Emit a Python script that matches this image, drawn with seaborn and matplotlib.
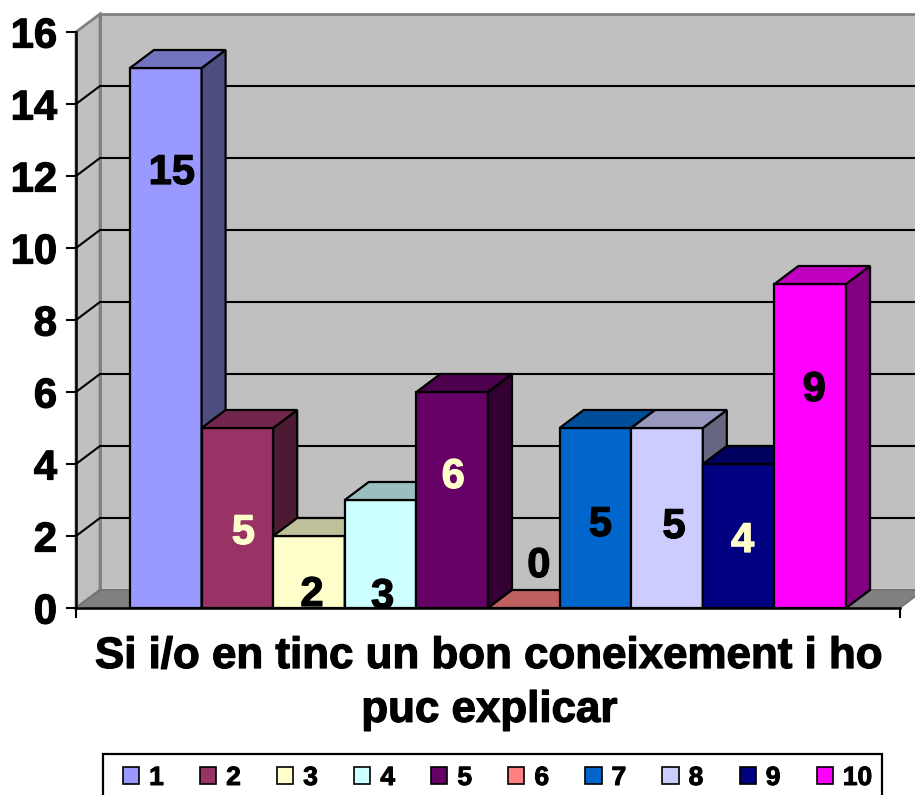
# =========================================================
# Fake 3D column chart (Excel style) with seaborn
# =========================================================

import pandas as pd
import numpy as np
import matplotlib
matplotlib.use("Agg")
import matplotlib.pyplot as plt
import matplotlib.patheffects as pe
import seaborn as sns

from matplotlib.colors import to_rgb

# =========================================================
# DATA
# =========================================================

answers = ["1", "2", "3", "4", "5", "6", "7", "8", "9", "10"]
counts = [15, 5, 2, 3, 6, 0, 5, 5, 4, 9]
colors = ["#9999FF", "#993366", "#FFFFCC", "#CCFFFF", "#660066",
          "#FF8080", "#0066CC", "#CCCCFF", "#000080", "#FF00FF"]
label_colors = ["black", "#FFFFCC", "black", "black", "#FFFFCC",
                "black", "black", "black", "#FFFFCC", "black"]
question = "Si i/o en tinc un bon coneixement i ho\npuc explicar"
y_ticks = [0, 2, 4, 6, 8, 10, 12, 14, 16]

# label offsets from the bar top centre, in pixels (the labels sit oddly in the original)
label_dx = [6, 6, 3, 2, 1, 15, 5, 7, 4, 4]
label_dy = [105, 105, 59, 97, 85, -42, 97, 99, 77, 106]

# =========================================================
# FIGURE
# =========================================================

sns.set_style("white")
plt.rcParams["font.family"] = ["Liberation Sans", "DejaVu Sans"]
plt.rcParams["font.weight"] = "bold"

W, H = 915, 795
fig = plt.figure(figsize=(W / 100, H / 100), dpi=100)
ax = fig.add_axes([76 / W, (H - 608) / H, 824 / W, 576 / H])

# the original text is heavier than a plain bold
heavy = [pe.withStroke(linewidth=0.9, foreground="black")]
heavy_light = [pe.withStroke(linewidth=0.9, foreground="#FFFFCC")]

df = pd.DataFrame({"question": ["q"] * len(answers), "answer": answers, "count": counts})

sns.barplot(
    data=df, x="question", y="count", hue="answer",
    hue_order=answers, palette=colors, saturation=1,
    width=0.869, gap=0, edgecolor="black", linewidth=1.6, ax=ax
)

ax.set_xlim(-0.5, 0.5)
ax.set_ylim(0, 16)

# depth of the fake 3D box, in data units
dx = 24 / 824
dy = 18 / 36

# =========================================================
# WALLS AND GRID
# =========================================================

x0, x1 = ax.get_xlim()
y0, y1 = ax.get_ylim()

ax.fill([x0 + dx, x1 + dx, x1 + dx, x0 + dx], [y0 + dy, y0 + dy, y1 + dy, y1 + dy],
        facecolor="#C0C0C0", edgecolor="#808080", lw=2, clip_on=False, zorder=0)
ax.fill([x0, x0 + dx, x0 + dx, x0], [y0, y0 + dy, y1 + dy, y1],
        facecolor="#C0C0C0", edgecolor="#808080", lw=2, clip_on=False, zorder=0.1)
ax.fill([x0, x1, x1 + dx, x0 + dx], [y0, y0, y0 + dy, y0 + dy],
        facecolor="#808080", edgecolor="#707070", lw=1, clip_on=False, zorder=0.2)

for t in y_ticks[1:-1]:
    ax.plot([x0, x0 + dx, x1 + dx], [t, t + dy, t + dy],
            color="black", lw=1.5, clip_on=False, zorder=0.5)

# =========================================================
# BAR SIDES AND TOPS
# =========================================================

def shade(color, k):
    return tuple(c * k for c in to_rgb(color))

for i, container in enumerate(ax.containers):
    bar = container[0]
    left = bar.get_x()
    right = left + bar.get_width()
    top = bar.get_height()
    z = 3 + i

    bar.set_zorder(z)
    ax.fill([right, right + dx, right + dx, right], [0, dy, top + dy, top],
            facecolor=shade(colors[i], 0.5), edgecolor="black", lw=1.6,
            clip_on=False, zorder=z)
    ax.fill([left, left + dx, right + dx, right], [top, top + dy, top + dy, top],
            facecolor=shade(colors[i], 0.75), edgecolor="black", lw=1.6,
            clip_on=False, zorder=z)

    ax.annotate(
        str(counts[i]),
        xy=(left + bar.get_width() / 2, top),
        xytext=(label_dx[i] * 0.72, -label_dy[i] * 0.72),
        textcoords="offset points",
        ha="center", va="center",
        fontsize=30, fontweight="bold",
        color=label_colors[i], zorder=20,
        path_effects=heavy_light if label_colors[i] != "black" else heavy
    )

# =========================================================
# AXES
# =========================================================

ax.set_yticks(y_ticks)
ax.set_xticks([x0, x1])
ax.set_xticklabels(["", ""])
ax.set_ylabel("")
ax.set_xlabel(question, fontsize=31.6, fontweight="bold", labelpad=10, linespacing=1.4,
              color="black", path_effects=heavy)
ax.xaxis.set_label_coords(0.5 + 1.5 / 824, -0.0)
ax.xaxis.label.set_verticalalignment("top")
ax.xaxis.label.set_y(-28 / 576)

ax.tick_params(axis="y", left=True, length=7.2, width=1.5, color="black",
               labelsize=30, pad=6.5, labelcolor="black")
ax.tick_params(axis="x", bottom=True, length=7.2, width=1.5, color="black")
for t in ax.get_yticklabels():
    t.set_path_effects(heavy)

sns.despine(ax=ax, top=True, right=True)
for side in ["left", "bottom"]:
    ax.spines[side].set_color("black")
    ax.spines[side].set_linewidth(1.8)
    ax.spines[side].set_zorder(30)

# =========================================================
# LEGEND
# =========================================================

handles, labels = ax.get_legend_handles_labels()
for h in handles:
    h.set_edgecolor("black")
    h.set_linewidth(1.2)

leg = ax.legend(
    handles, labels,
    ncol=10, loc="center left",
    bbox_to_anchor=(123 / W, (H - 778) / H),
    bbox_transform=fig.transFigure,
    title=None, frameon=False,
    prop={"size": 19, "weight": "bold"},
    handlelength=0.61, handleheight=0.61, handletextpad=0.38,
    columnspacing=1.375, borderaxespad=0, borderpad=0
)
for t in leg.get_texts():
    t.set_color("black")
    t.set_path_effects([pe.withStroke(linewidth=0.7, foreground="black")])

# frame of the legend runs off the bottom of the picture
fig.add_artist(plt.Rectangle(
    (103 / W, -10 / H), 779 / W, (H - 754 + 10) / H,
    transform=fig.transFigure, facecolor="none", edgecolor="black", lw=1.6
))

fig.savefig("out.png", dpi=100)
